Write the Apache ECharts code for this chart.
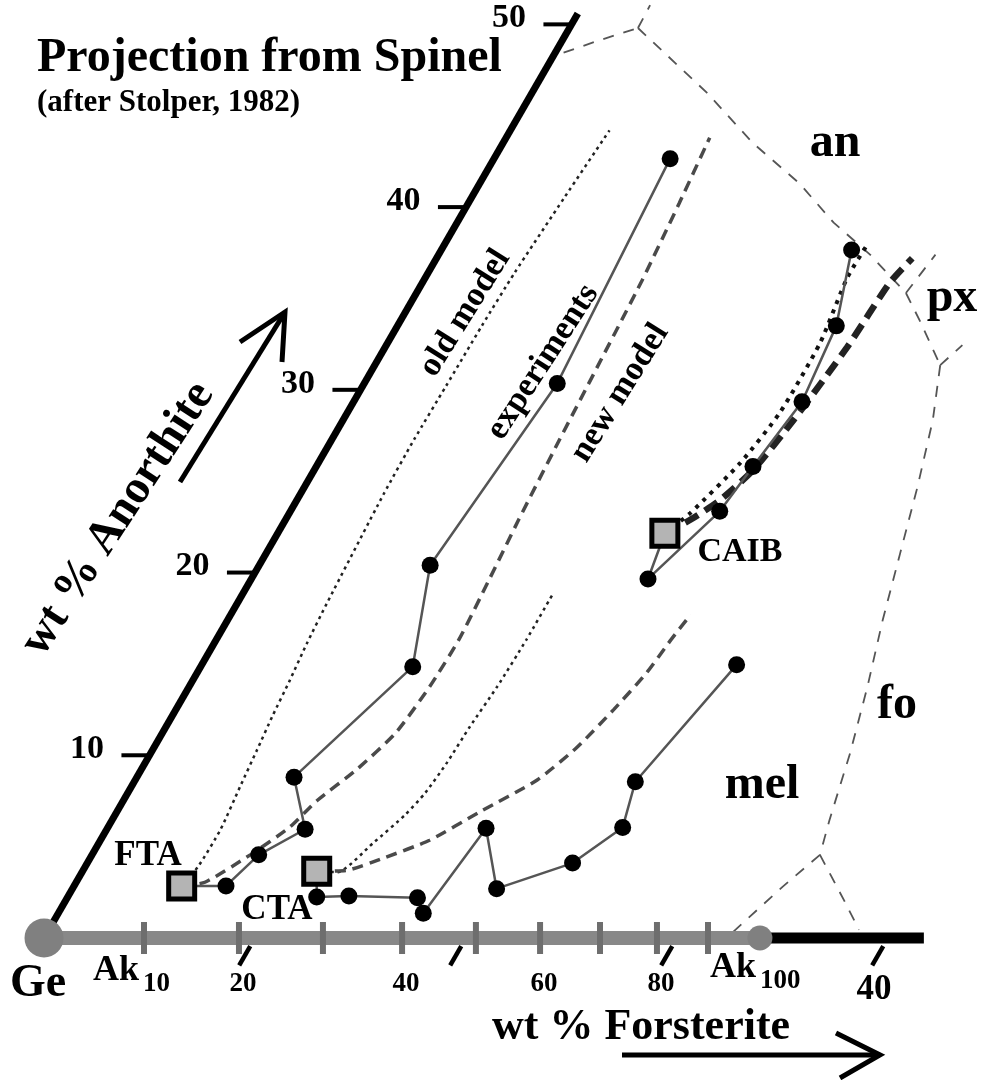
<!DOCTYPE html>
<html>
<head>
<meta charset="utf-8">
<title>Projection from Spinel</title>
<script src="https://cdn.jsdelivr.net/npm/echarts/dist/echarts.min.js"></script>
<style>
html, body { margin: 0; padding: 0; background: #fff; }
#chart { width: 982px; height: 1080px; }
</style>
</head>
<body>
<div id="chart"></div>
<script>
// compositions are [wt% Fo, wt% An] in the spinel projection (Ge at origin)
const ftaStart = [5.1, 2.85];
const ctaStart = [11.1, 3.65];
const caibStart = [18.35, 22.15];

const ftaExperiments = [[7.2, 2.85], [7.9, 4.55], [9.4, 5.95], [7.45, 8.8], [10.05, 14.85], [8.1, 20.4], [9.15, 30.35], [8.35, 42.65]];
const ctaExperiments = [[11.8, 2.25], [13.3, 2.3], [16.6, 2.2], [17.3, 1.35], [17.95, 6.0], [20.1, 2.7], [23.0, 4.1], [24.4, 6.05], [23.75, 8.55], [25.35, 14.95]];
const caibExperiments = [[18.8, 19.65], [20.35, 23.35], [20.7, 25.8], [21.25, 29.35], [20.8, 33.5], [19.45, 37.65]];

const ftaOldModel = [[5.35, 3.9], [5.4, 5.9], [5.15, 8.3], [4.95, 10.3], [4.75, 12.2], [4.6, 14.1], [4.4, 16.1], [4.25, 18.3], [3.95, 24.3], [3.9, 27.3], [3.95, 30.2], [4.0, 33.5], [4.1, 36.4], [4.4, 40.5], [4.7, 44.2]];
const ftaNewModel = [[6.1, 3.05], [7.5, 4.55], [8.6, 6.05], [9.2, 7.55], [10.2, 9.2], [11.05, 11.2], [11.4, 13.75], [11.5, 16.3], [11.3, 19.5], [11.05, 22.9], [10.8, 27.2], [10.6, 31.2], [10.35, 36.0], [10.0, 40.2], [9.65, 43.8]];
const ctaOldModel = [[12.1, 3.6], [13.0, 5.2], [13.75, 6.75], [14.1, 7.95], [14.3, 9.6], [14.4, 11.55], [14.6, 13.75], [14.7, 16.3], [14.7, 18.9]];
const ctaNewModel = [[12.5, 3.7], [13.95, 4.4], [15.6, 5.35], [17.2, 6.9], [19.05, 8.65], [20.05, 10.45], [20.75, 12.5], [21.3, 14.5], [21.55, 16.3], [21.8, 17.7]];
const caibOldModel = [[19.0, 23.25], [20.0, 26.0], [20.5, 28.75], [20.5, 32.55], [20.0, 36.15], [20.05, 38.05]];
const caibNewModel = [[19.2, 22.9], [20.05, 23.95], [20.8, 25.6], [21.35, 28.35], [21.9, 32.35], [22.15, 35.85], [22.55, 37.2]];

// phase boundaries (an, px, fo, mel fields)
const boundaries = [
    [[0.4, 48.45], [1.8, 49.15], [3.25, 49.8]],
    [[3.25, 49.8], [3.2, 51.05]],
    [[3.25, 49.8], [8.3, 46.25], [11.85, 43.5], [15.15, 41.3], [17.85, 39.15], [20.45, 37.4], [23.2, 35.3]],
    [[23.2, 35.3], [23.55, 37.4]],
    [[23.2, 35.3], [24.6, 33.8], [26.8, 31.35]],
    [[26.8, 31.35], [27.3, 32.45]],
    [[26.8, 31.35], [27.95, 28.35], [29.05, 24.7], [30.05, 21.05], [31.05, 17.4], [32.15, 13.75], [33.15, 10.1], [34.0, 6.45], [34.5, 4.55]],
    [[34.5, 4.55], [33.6, 2.8], [32.5, 0.35]],
    [[34.5, 4.55], [36.85, 2.1], [38.4, 0.45]]
];

// axes
const anTicks = [10, 20, 30, 40, 50];
const anTickLabels = ['10', '20', '30', '40', '50'];
const anAxisTop = 50.6;
const akTickFo = [4.74, 9.24, 13.22, 16.97, 20.47, 23.51, 26.35, 29.05, 31.47];
const akTickLabels = ['', '20', '', '40', '', '60', '', '80', ''];
const ak100Fo = 33.93;
const foAxisEnd = 41.7;
const foTicks = [10, 20, 30, 40];
const foTickLabels = ['', '', '', '40'];

const SERIF = '"Liberation Serif", "DejaVu Serif", serif';
const GE_X = 44, GE_Y = 938, UNIT = 21.1, Y_UNIT = UNIT * 0.866;

// ternary shear: Fo runs horizontally, An rises at 60 degrees
function proj(p) {
    return [p[0] + 0.5 * p[1], p[1]];
}

function line(points, style, z, smooth) {
    return {
        type: 'line',
        data: points.map(proj),
        symbol: 'none',
        showSymbol: false,
        smooth: smooth || false,
        lineStyle: style,
        z: z,
        silent: true
    };
}

function dots(points, z) {
    return {
        type: 'scatter',
        data: points.map(proj),
        symbol: 'circle',
        symbolSize: 17,
        itemStyle: { color: '#000', opacity: 1 },
        z: z,
        silent: true
    };
}

const boundaryStyle = { color: '#555', width: 1.8, type: [11, 10] };
const oldStyle = { color: '#222', width: 2.5, type: [3, 4] };
const newStyle = { color: '#4a4a4a', width: 3.5, type: [11, 7] };
const expStyle = { color: '#555', width: 2.5 };
const hidden = { color: 'rgba(0,0,0,0)', opacity: 1 };

const series = [];

boundaries.forEach(b => series.push(line(b, boundaryStyle, 2)));

// anorthite axis and its ticks
series.push(line([[0, 0], [0, anAxisTop]], { color: '#000', width: 7, cap: 'butt' }, 5));
anTicks.forEach(a => series.push(line([[-1.33, a], [0, a]], { color: '#000', width: 4 }, 5)));
series.push({
    type: 'scatter',
    data: anTicks.map(a => proj([-1.33, a])),
    symbolSize: 1,
    itemStyle: hidden,
    label: {
        show: true, position: 'left', distance: 17, offset: [0, -6],
        formatter: p => anTickLabels[p.dataIndex],
        fontFamily: SERIF, fontWeight: 'bold', fontSize: 34, color: '#000'
    },
    z: 6, silent: true
});

// melilite join and forsterite axis
series.push(line([[0, 0], [ak100Fo, 0]], { color: '#888', width: 14 }, 4));
series.push(line([[ak100Fo, 0], [foAxisEnd, 0]], { color: '#000', width: 11 }, 4));
foTicks.forEach(f => series.push(line([[f, -0.45], [f, -1.5]], { color: '#000', width: 4.5 }, 5)));
series.push({
    type: 'scatter',
    data: akTickFo.map(f => proj([f, 0])),
    symbol: 'rect',
    symbolSize: [6, 32],
    itemStyle: { color: '#6e6e6e', opacity: 1 },
    label: {
        show: true, position: 'inside', offset: [4, 46],
        formatter: p => akTickLabels[p.dataIndex],
        fontFamily: SERIF, fontWeight: 'bold', fontSize: 27, color: '#000'
    },
    z: 5, silent: true
});
series.push({
    type: 'scatter',
    data: foTicks.map(f => proj([f, 0])),
    symbolSize: 1,
    itemStyle: hidden,
    label: {
        show: true, position: 'inside', offset: [-14, 52],
        formatter: p => foTickLabels[p.dataIndex],
        fontFamily: SERIF, fontWeight: 'bold', fontSize: 35, color: '#000'
    },
    z: 5, silent: true
});
series.push({
    type: 'scatter',
    data: [{ value: proj([0, 0]), symbolSize: 39 }, { value: proj([ak100Fo, 0]), symbolSize: 25 }],
    symbol: 'circle',
    itemStyle: { color: '#808080', opacity: 1 },
    z: 7, silent: true
});

// model curves
[[ftaStart, ftaOldModel], [ctaStart, ctaOldModel]].forEach(m => series.push(line([m[0]].concat(m[1]), oldStyle, 3, 0.2)));
[[ftaStart, ftaNewModel], [ctaStart, ctaNewModel]].forEach(m => series.push(line([m[0]].concat(m[1]), newStyle, 3, 0.2)));
series.push(line([caibStart].concat(caibOldModel), { color: '#111', width: 4, type: [4, 6] }, 3, 0.2));
series.push(line([caibStart].concat(caibNewModel), { color: '#222', width: 6.5, type: [15, 8] }, 3, 0.2));

// experiments
[[ftaStart, ftaExperiments], [ctaStart, ctaExperiments], [caibStart, caibExperiments]].forEach(e => {
    series.push(line([e[0]].concat(e[1]), expStyle, 8));
    series.push(dots(e[1], 9));
});

// starting compositions
series.push({
    type: 'scatter',
    data: [ftaStart, ctaStart, caibStart].map(proj),
    symbol: 'rect',
    symbolSize: 26,
    itemStyle: { color: '#b4b4b4', borderColor: '#000', borderWidth: 5, opacity: 1 },
    z: 10, silent: true
});

function txt(text, x, y, size, align, rot) {
    return {
        type: 'text', x: x, y: y, rotation: rot || 0, z: 20,
        style: {
            text: text, fill: '#000',
            font: 'bold ' + size + 'px ' + SERIF,
            textAlign: align || 'left', align: align || 'left',
            textVerticalAlign: 'middle', verticalAlign: 'middle'
        }
    };
}
function arrow(points) {
    return {
        type: 'polyline', z: 20,
        shape: { points: points },
        style: { stroke: '#000', lineWidth: 5, fill: null }
    };
}
const deg = Math.PI / 180;

const graphic = [
    txt('Projection from Spinel', 37, 59, 48),
    txt('(after Stolper, 1982)', 37, 103, 31),
    txt('an', 835, 144, 48, 'center'),
    txt('px', 952, 299, 48, 'center'),
    txt('fo', 897, 706, 48, 'center'),
    txt('mel', 762, 786, 48, 'center'),
    txt('FTA', 148, 856, 35, 'center'),
    txt('CTA', 277, 910, 35, 'center'),
    txt('CAIB', 740, 552, 34, 'center'),
    txt('old model', 465, 313, 34, 'center', 58 * deg),
    txt('experiments', 543, 362, 34, 'center', 57 * deg),
    txt('new model', 620, 393, 34, 'center', 58 * deg),
    txt('wt % Anorthite', 118, 519, 47, 'center', 57 * deg),
    txt('Ge', 10, 984, 46),
    txt('Ak', 93, 971, 36),
    txt('10', 143, 984, 27),
    txt('Ak', 710, 968, 36),
    txt('100', 760, 981, 27),
    txt('wt % Forsterite', 492, 1028, 44),
    arrow([[180, 482], [285, 312]]),
    arrow([[240, 342], [285, 312], [282, 362]]),
    arrow([[622, 1055], [880, 1055]]),
    arrow([[836, 1033], [880, 1055], [840, 1078]])
];

const option = {
    animation: false,
    backgroundColor: '#fff',
    grid: { left: 0, right: 0, top: 0, bottom: 0 },
    xAxis: { type: 'value', min: -GE_X / UNIT, max: (982 - GE_X) / UNIT, show: false },
    yAxis: { type: 'value', min: -(1080 - GE_Y) / Y_UNIT, max: GE_Y / Y_UNIT, show: false },
    series: series,
    graphic: graphic
};

const myChart = echarts.init(document.getElementById('chart'));
myChart.setOption(option);
</script>
</body>
</html>
